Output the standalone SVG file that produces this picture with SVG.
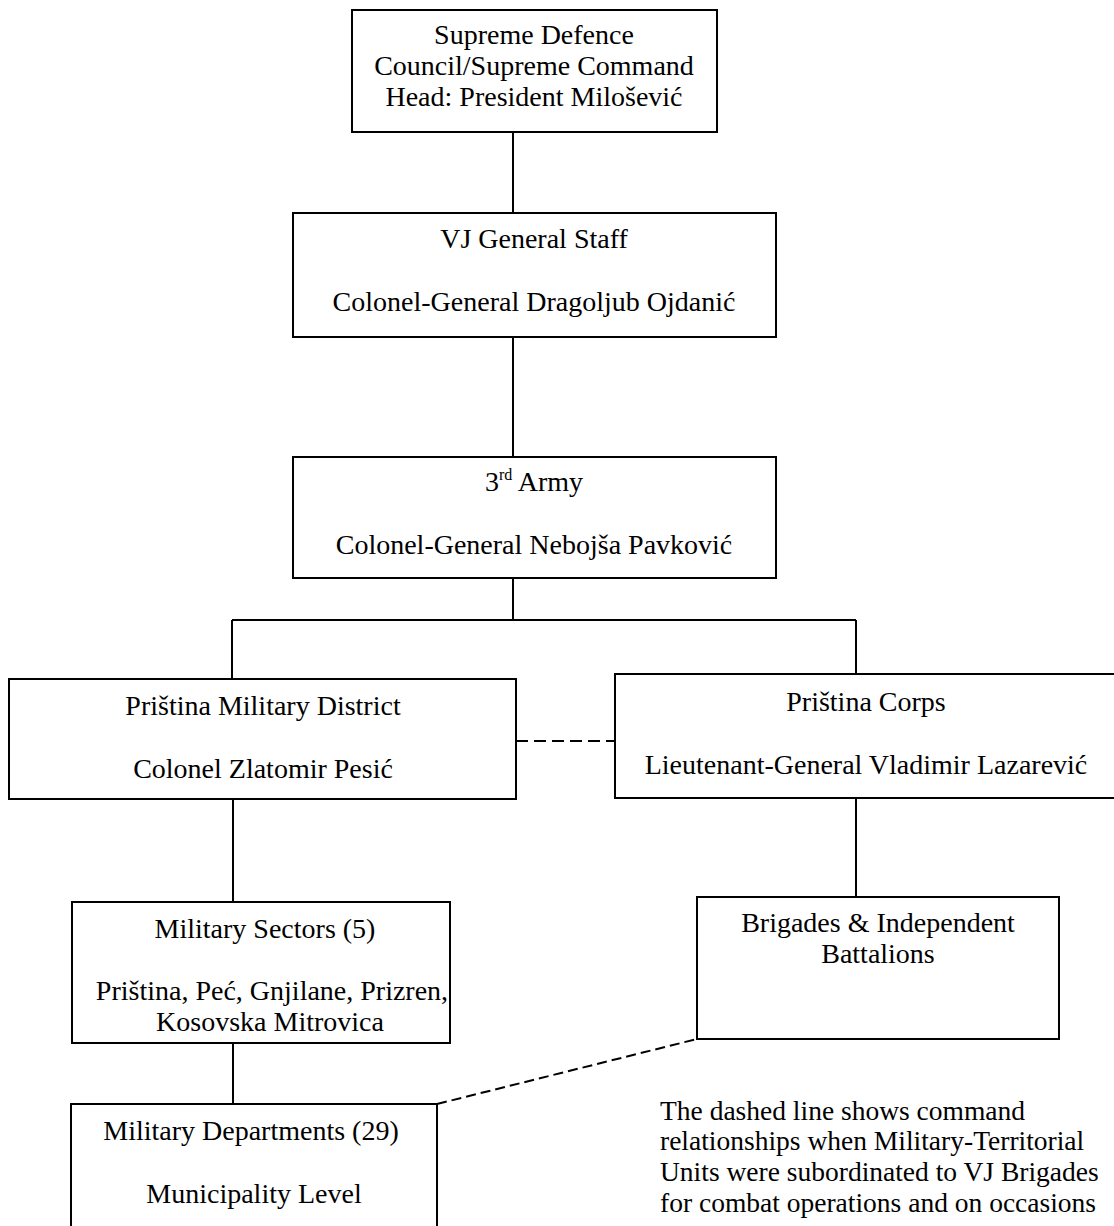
<svg xmlns="http://www.w3.org/2000/svg" width="1114" height="1226" viewBox="0 0 1114 1226">
<style>
rect.box{fill:#fff;stroke:#000;stroke-width:2}
.c line{stroke:#000;stroke-width:2;fill:none}
.c .d{stroke-dasharray:12 6}
.c .d2{stroke-dasharray:10 5}
text{font-family:"Liberation Serif","Times New Roman",serif;font-size:28px;fill:#000;text-anchor:middle}
text.note{text-anchor:start;font-size:27.5px}
</style>
<rect width="1114" height="1226" fill="#fff"/>
<g class="c" id="connectors">
<line x1="513" y1="132" x2="513" y2="213"/>
<line x1="513" y1="337" x2="513" y2="457"/>
<line x1="513" y1="578" x2="513" y2="620"/>
<line x1="232" y1="620" x2="856" y2="620"/>
<line x1="232" y1="620" x2="232" y2="679"/>
<line x1="856" y1="620" x2="856" y2="674"/>
<line class="d" x1="516" y1="741" x2="615" y2="741"/>
<line x1="233" y1="799" x2="233" y2="902"/>
<line x1="856" y1="798" x2="856" y2="897"/>
<line x1="233" y1="1043" x2="233" y2="1104"/>
<line class="d2" x1="437" y1="1104" x2="697" y2="1039"/>
</g>
<g id="supreme">
<rect class="box" x="352" y="10" width="365" height="122"/>
<text x="534" y="44">Supreme Defence</text>
<text x="534" y="75">Council/Supreme Command</text>
<text x="534" y="106">Head: President Milošević</text>
</g>
<g id="general-staff">
<rect class="box" x="293" y="213" width="483" height="124"/>
<text x="534" y="248">VJ General Staff</text>
<text x="534" y="311">Colonel-General Dragoljub Ojdanić</text>
</g>
<g id="third-army">
<rect class="box" x="293" y="457" width="483" height="121"/>
<text x="534" y="491">3<tspan font-size="16" dy="-11">rd</tspan><tspan dy="11"> Army</tspan></text>
<text x="534" y="554">Colonel-General Nebojša Pavković</text>
</g>
<g id="pristina-district">
<rect class="box" x="9" y="679" width="507" height="120"/>
<text x="263" y="715">Priština Military District</text>
<text x="263" y="778">Colonel Zlatomir Pesić</text>
</g>
<g id="pristina-corps">
<rect class="box" x="615" y="674" width="510" height="124"/>
<text x="866" y="711">Priština Corps</text>
<text x="866" y="774">Lieutenant-General Vladimir Lazarević</text>
</g>
<g id="military-sectors">
<rect class="box" x="72" y="902" width="378" height="141"/>
<text x="265" y="938">Military Sectors (5)</text>
<text x="272" y="1000">Priština, Peć, Gnjilane, Prizren,</text>
<text x="270" y="1031">Kosovska Mitrovica</text>
</g>
<g id="brigades">
<rect class="box" x="697" y="897" width="362" height="142"/>
<text x="878" y="932">Brigades &amp; Independent</text>
<text x="878" y="963">Battalions</text>
</g>
<g id="military-departments">
<rect class="box" x="71" y="1104" width="366" height="130"/>
<text x="251" y="1140">Military Departments (29)</text>
<text x="254" y="1203">Municipality Level</text>
</g>
<g id="note">
<text class="note" x="660" y="1120">The dashed line shows command</text>
<text class="note" x="660" y="1150">relationships when Military-Territorial</text>
<text class="note" x="660" y="1181">Units were subordinated to VJ Brigades</text>
<text class="note" x="660" y="1212">for combat operations and on occasions</text>
</g>
</svg>
